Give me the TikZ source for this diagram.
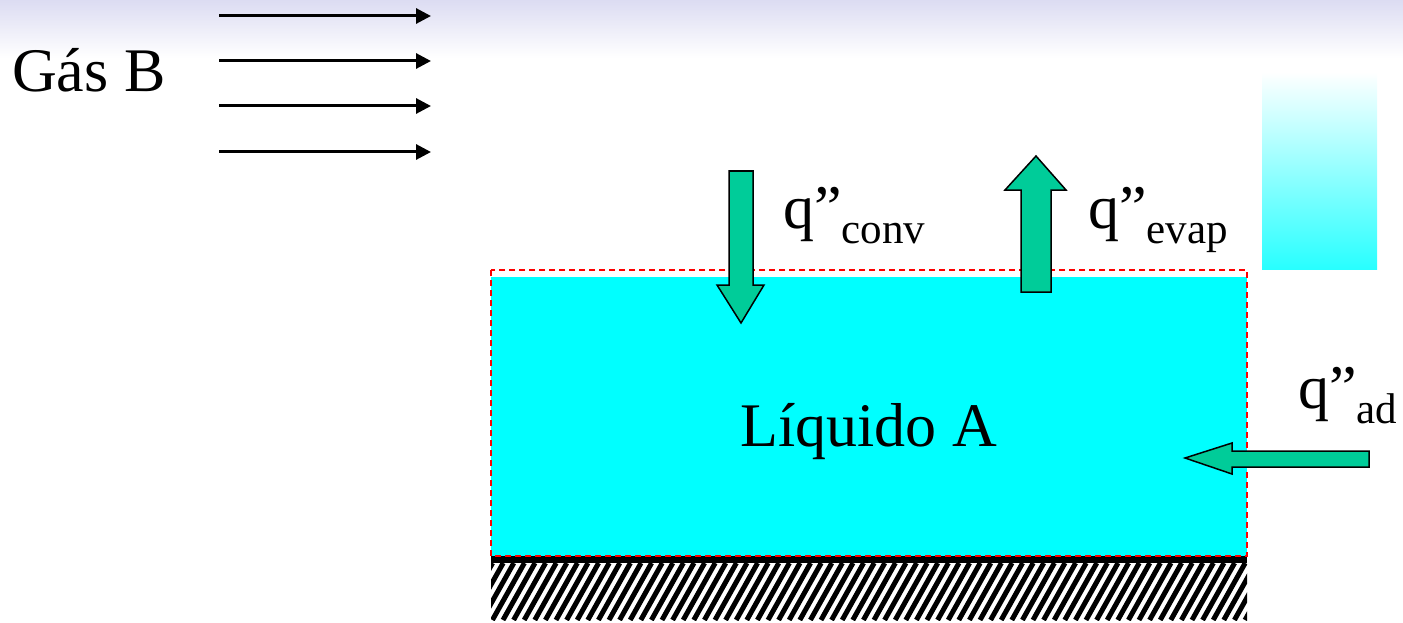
\documentclass[tikz,border=0pt]{standalone}
\usepackage{fontspec}
\setmainfont{Liberation Serif}
\newfontfamily\timesfont{Liberation Serif}
\usetikzlibrary{arrows.meta}
\definecolor{flowgreen}{RGB}{0,204,153}
\definecolor{liq}{RGB}{0,255,255}
\definecolor{bandtop}{RGB}{220,220,242}
\definecolor{gradbot}{RGB}{40,255,255}
\definecolor{gradmid}{RGB}{190,255,255}
\newcommand\fluxlabel[1]{q”\raisebox{-15pt}{\fontsize{43}{43}\selectfont #1}}
\tikzset{
  bigtext/.style={anchor=base west, inner sep=0pt, font=\timesfont\fontsize{62}{62}\selectfont},
  gasarrow/.style={line width=3pt, -{Triangle[length=15pt,width=15pt]}},
  blockarrow/.style={draw=black, fill=flowgreen, line width=1.5pt, line join=miter},
  boundary/.style={draw=red, line width=1.5pt, dash pattern=on 6pt off 4pt},
}
\begin{document}
\begin{tikzpicture}[x=1pt,y=-1pt]
\useasboundingbox (0,0) rectangle (1403,623);
% background band
\shade[top color=bandtop, bottom color=white] (0,0) rectangle (1403,58);
% right gradient block
\shade[top color=white, middle color=gradmid, bottom color=gradbot] (1262,72) rectangle (1377,269);
% liquid
\fill[liq] (491,277) rectangle (1247,556);
% hatched wall
\begin{scope}
  \clip (491,563) rectangle (1247,620);
  \foreach \i in {0,...,76} \draw[line width=5pt] (450+\i*10.6,620) -- ++(32,-57);
\end{scope}
\fill[black] (491,556) rectangle (1247,563);
\draw[boundary] (491,270) rectangle (1247,556);
% gas arrows
\foreach \y [count=\k] in {16,61,106,152} {
  \coordinate (g\k s) at (219,\y);
  \coordinate (g\k e) at (431,\y);
  \draw[gasarrow] (g\k s) -- (g\k e);
}
% block arrows
\draw[blockarrow] (729,171) -- (753,171) -- (753,285) -- (764,285) -- (741,323) -- (717,285) -- (729,285) -- cycle;
\draw[blockarrow] (1021,292) -- (1051,292) -- (1051,190) -- (1066,190) -- (1036,156) -- (1005,190) -- (1021,190) -- cycle;
\draw[blockarrow] (1369,451) -- (1232,451) -- (1232,443) -- (1185,458) -- (1232,474) -- (1232,467) -- (1369,467) -- cycle;
% texts
\node[bigtext] (gas) at (12,92) {Gás B};
\node[bigtext] (liquid) at (740,446) {Líquido A};
\node[bigtext] (qconv) at (783,228) {\fluxlabel{conv}};
\node[bigtext] (qevap) at (1088,228) {\fluxlabel{evap}};
\node[bigtext] (qad) at (1298,408) {\fluxlabel{ad}};
\end{tikzpicture}
\end{document}
